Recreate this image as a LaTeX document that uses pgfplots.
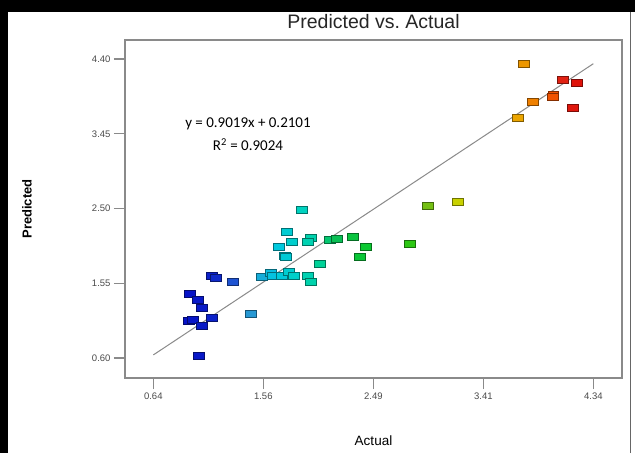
\documentclass[border=0pt]{standalone}
\usepackage{pgfplots}
\pgfplotsset{compat=1.18}
\usepackage{fontspec}
\setmainfont{Liberation Sans}
\newfontfamily\calib{Carlito}

\definecolor{framegray}{HTML}{8A8A8A}
\definecolor{labgray}{HTML}{4A4A4A}

\begin{document}
\begin{tikzpicture}
% page of the screenshot, 635 x 453 (1px = 1pt)
\fill[white] (0pt,0pt) rectangle (635pt,453pt);
\begin{scope}[overlay]
\begin{axis}[
    at={(125pt,75pt)}, anchor=south west,
    scale only axis, width=497pt, height=338pt,
    xmin=0.402, xmax=4.581,
    ymin=0.347, ymax=4.641,
    xtick={0.64,1.565,2.49,3.415,4.34},
    xticklabels={0.64,1.56,2.49,3.41,4.34},
    ytick={0.60,1.55,2.50,3.45,4.40},
    yticklabels={0.60,1.55,2.50,3.45,4.40},
    tick pos=left, tick align=outside, major tick length=11pt,
    axis line style={framegray, line width=1.3pt},
    tick style={framegray, line width=1.2pt},
    tick label style={font=\fontsize{9.5}{11}\selectfont, text=labgray},
    title={Predicted vs.\ Actual},
    title style={at={(axis description cs:0.5,1.0355)}, anchor=center,
        font=\fontsize{19.5}{21}\selectfont, text=black!85},
    xlabel={Actual},
    xlabel style={at={(axis description cs:0.5,-0.1864)}, anchor=center,
        font=\fontsize{13.5}{15}\selectfont},
    ylabel={Predicted},
    ylabel style={at={(axis description cs:-0.197,0.5)}, anchor=center,
        font=\bfseries\fontsize{13}{15}\selectfont},
    colormap={dx}{rgb255(0pt)=(0,0,200); rgb255(13pt)=(10,30,200);
        rgb255(18pt)=(30,80,210); rgb255(22pt)=(40,150,210);
        rgb255(28pt)=(0,200,225); rgb255(34pt)=(0,210,190);
        rgb255(38pt)=(0,210,150); rgb255(42pt)=(10,190,80);
        rgb255(48pt)=(10,200,50); rgb255(58pt)=(40,200,20);
        rgb255(62pt)=(110,190,20); rgb255(69pt)=(200,210,0);
        rgb255(83pt)=(235,165,0); rgb255(87pt)=(240,120,0);
        rgb255(91pt)=(240,80,0); rgb255(93pt)=(225,35,20);
        rgb255(100pt)=(220,0,0)},
    point meta min=0.64, point meta max=4.34,
]

% reference line predicted = actual
\addplot[framegray, line width=1pt, forget plot] coordinates {(0.64,0.64) (4.34,4.34)};

\addplot[scatter, only marks, mark=square*, mark size=3.5pt,
    mark options={xscale=1.55, line width=0.9pt},
    point meta=x,
    scatter/use mapped color={draw=mapped color!55!black, fill=mapped color}]
    table {
x y
1.027 0.629
0.949 1.419
1.018 1.343
1.052 1.237
0.940 1.069
0.974 1.081
1.047 1.009
1.131 1.110
1.131 1.639
1.167 1.617
1.313 1.566
1.462 1.161
1.552 1.630
1.626 1.685
1.649 1.642
1.722 1.642
1.781 1.689
1.826 1.642
1.938 1.642
1.966 1.563
1.888 2.478
1.764 2.202
1.804 2.073
1.694 2.010
1.962 2.120
1.943 2.073
1.750 1.898
1.753 1.880
2.039 1.791
2.126 2.095
2.185 2.114
2.317 2.136
2.431 2.010
2.378 1.886
2.796 2.044
2.952 2.538
3.200 2.589
3.707 3.656
3.833 3.855
3.757 4.333
4.004 3.937
3.997 3.918
4.088 4.130
4.205 4.100
4.172 3.775
};

\node[font=\calib\fontsize{15}{17}\selectfont] at (axis cs:1.436,3.577) {y = 0.9019x + 0.2101};
\node[font=\calib\fontsize{15}{17}\selectfont] at (axis cs:1.436,3.311) {R\textsuperscript{2} = 0.9024};
\end{axis}
\end{scope}
% black frame of the screenshot
\fill[black] (0pt,0pt) rectangle (8pt,453pt);
\fill[black] (0pt,441pt) rectangle (635pt,453pt);
\draw[black!60, line width=1.2pt] (630.5pt,0pt) -- (630.5pt,441pt);
\end{tikzpicture}
\end{document}
